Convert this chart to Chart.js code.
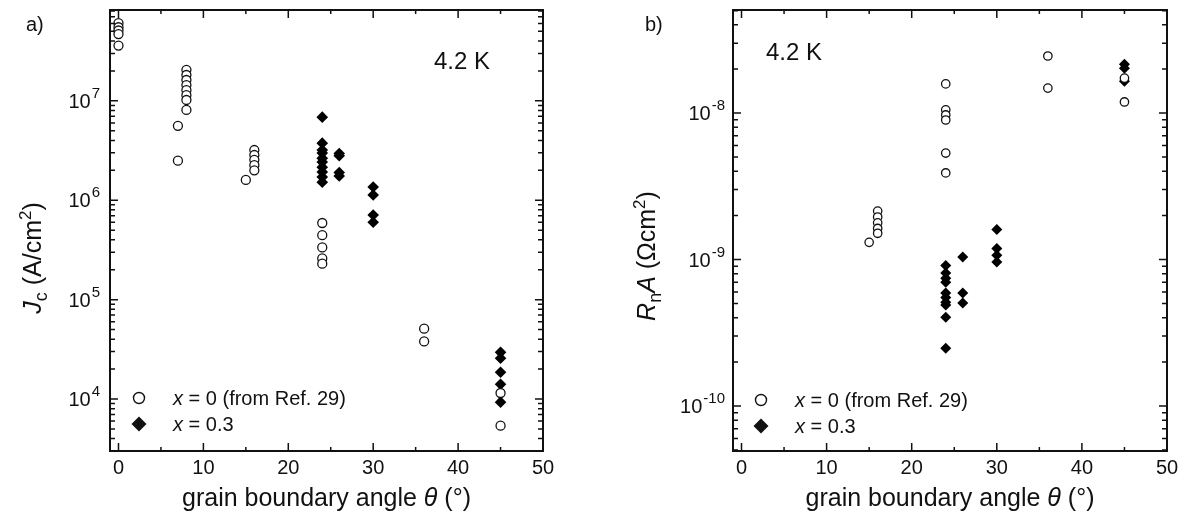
<!DOCTYPE html>
<html>
<head>
<meta charset="utf-8">
<script src="https://cdn.jsdelivr.net/npm/chart.js@4.4.1/dist/chart.umd.min.js"></script>
<style>
  html, body { margin: 0; padding: 0; background: #fff; }
  #wrap { position: relative; width: 1182px; height: 525px; }
  .panel { position: absolute; top: 0; height: 525px; }
</style>
</head>
<body>
<div id="wrap">
  <div class="panel" style="left:0;width:600px"><canvas id="chartA"></canvas></div>
  <div class="panel" style="left:600px;width:582px"><canvas id="chartB"></canvas></div>
</div>
<script>
// ---- data ----
// panel a) Jc vs grain boundary angle
const aOpenX = [0, 0, 0, 0, 0, 7, 7, 8, 8, 8, 8, 8, 8, 8, 8, 15, 16, 16, 16, 16, 16, 24, 24, 24, 24, 24, 36, 36, 45, 45];
const aOpenY = [6.05e7, 5.5e7, 5.1e7, 4.7e7, 3.6e7, 5.6e6, 2.5e6,
  2.05e7, 1.82e7, 1.62e7, 1.44e7, 1.28e7, 1.14e7, 1.02e7, 8.1e6,
  1.6e6, 3.2e6, 2.85e6, 2.55e6, 2.25e6, 2.0e6,
  5.9e5, 4.45e5, 3.35e5, 2.6e5, 2.3e5, 5.1e4, 3.8e4, 1.15e4, 5.4e3];
const aFullX = [24, 24, 24, 24, 24, 24, 24, 24, 24, 24, 26, 26, 26, 26, 30, 30, 30, 30, 45, 45, 45, 45, 45];
const aFullY = [6.85e6, 3.75e6, 3.2e6, 2.98e6, 2.65e6, 2.42e6, 2.15e6, 1.92e6, 1.71e6, 1.52e6,
  2.95e6, 2.8e6, 1.9e6, 1.75e6,
  1.36e6, 1.13e6, 7.1e5, 6.0e5,
  2.95e4, 2.57e4, 1.86e4, 1.41e4, 9.3e3];

// panel b) RnA vs grain boundary angle
const bOpenX = [15, 16, 16, 16, 16, 16, 24, 24, 24, 24, 24, 24, 36, 36, 45, 45];
const bOpenY = [1.31e-9, 2.14e-9, 1.95e-9, 1.78e-9, 1.63e-9, 1.51e-9,
  1.58e-8, 1.05e-8, 9.7e-9, 8.96e-9, 5.33e-9, 3.9e-9,
  2.45e-8, 1.48e-8, 1.73e-8, 1.19e-8];
const bFullX = [24, 24, 24, 24, 24, 24, 24, 24, 24, 24, 26, 26, 26, 30, 30, 30, 30, 45, 45, 45];
const bFullY = [9.1e-10, 8.1e-10, 7.45e-10, 7.0e-10, 5.9e-10, 5.5e-10, 5.1e-10, 4.9e-10, 4.04e-10, 2.48e-10,
  1.04e-9, 5.9e-10, 5.04e-10,
  1.6e-9, 1.19e-9, 1.07e-9, 9.6e-10,
  2.15e-8, 2.02e-8, 1.65e-8];

// axis ticks
const xMajor = [0, 10, 20, 30, 40, 50];
const xMinor = [5, 15, 25, 35, 45];
const aDecades = [4, 5, 6, 7];
const bDecades = [-10, -9, -8];

const FONT = "'Liberation Sans', Arial, Helvetica, sans-serif";
const INK = '#111';

function pts(xs, ys) {
  return xs.map((x, i) => ({ x: x, y: ys[i] }));
}

function fontOf(r) {
  return (r.italic ? 'italic ' : '') + (r.size || 20) + 'px ' + FONT;
}

// draw a list of text runs (for sub/superscripts); y is the baseline
function drawRuns(ctx, runs, x, y, align) {
  let w = 0;
  runs.forEach(r => { ctx.font = fontOf(r); w += ctx.measureText(r.t).width; });
  let cx = align === 'center' ? x - w / 2 : (align === 'right' ? x - w : x);
  ctx.textAlign = 'left';
  ctx.textBaseline = 'alphabetic';
  runs.forEach(r => {
    ctx.font = fontOf(r);
    ctx.fillText(r.t, cx, y + (r.dy || 0));
    cx += ctx.measureText(r.t).width;
  });
}

function frameAndText(opts) {
  return {
    id: 'frameAndText',
    afterDraw(chart) {
      const ctx = chart.ctx;
      const area = chart.chartArea;
      const xs = chart.scales.x, ys = chart.scales.y;
      ctx.save();
      ctx.strokeStyle = INK;
      ctx.fillStyle = INK;

      // frame
      ctx.lineWidth = 2;
      ctx.strokeRect(area.left, area.top, area.right - area.left, area.bottom - area.top);

      // x ticks (inward, bottom + top)
      ctx.lineWidth = 1.5;
      const xTick = (v, len) => {
        const px = xs.getPixelForValue(v);
        ctx.beginPath();
        ctx.moveTo(px, area.bottom); ctx.lineTo(px, area.bottom - len);
        ctx.moveTo(px, area.top); ctx.lineTo(px, area.top + len);
        ctx.stroke();
      };
      xMajor.forEach(v => xTick(v, 8));
      xMinor.forEach(v => xTick(v, 4));

      // y ticks (log, inward, left + right)
      const yTick = (v, len) => {
        if (v < ys.min || v > ys.max) return;
        const py = ys.getPixelForValue(v);
        ctx.beginPath();
        ctx.moveTo(area.left, py); ctx.lineTo(area.left + len, py);
        ctx.moveTo(area.right, py); ctx.lineTo(area.right - len, py);
        ctx.stroke();
      };
      const d0 = Math.floor(Math.log10(ys.min)), d1 = Math.ceil(Math.log10(ys.max));
      for (let d = d0; d <= d1; d++) {
        yTick(Math.pow(10, d), 8);
        for (let m = 2; m <= 9; m++) yTick(m * Math.pow(10, d), 5);
      }

      // x tick labels
      ctx.font = '20px ' + FONT;
      ctx.textAlign = 'center';
      ctx.textBaseline = 'alphabetic';
      xMajor.forEach(v => ctx.fillText(String(v), xs.getPixelForValue(v), 474));

      // y tick labels 10^n
      opts.decades.forEach(d => {
        const py = ys.getPixelForValue(Math.pow(10, d));
        const exp = String(d);
        ctx.font = '15px ' + FONT;
        const ew = ctx.measureText(exp).width;
        const right = area.left - opts.labelGap;
        ctx.textAlign = 'left';
        ctx.fillText(exp, right - ew, py - 3);
        ctx.font = '20px ' + FONT;
        ctx.textAlign = 'right';
        ctx.fillText('10', right - ew - 1, py + 7);
      });

      // x axis title
      const cx = (area.left + area.right) / 2;
      drawRuns(ctx, [
        { t: 'grain boundary angle ', size: 25 },
        { t: '\u03b8', size: 25, italic: true },
        { t: ' (\u00b0)', size: 25 }
      ], cx, 506, 'center');

      // y axis title (rotated)
      ctx.save();
      ctx.translate(opts.yTitleX, opts.yTitleY);
      ctx.rotate(-Math.PI / 2);
      drawRuns(ctx, opts.yTitle, 0, 0, 'center');
      ctx.restore();

      // panel letter and temperature
      ctx.font = '20px ' + FONT;
      ctx.textAlign = 'left';
      ctx.fillText(opts.letter, opts.letterX, 31);
      ctx.font = '24px ' + FONT;
      ctx.fillText('4.2 K', opts.tempX, opts.tempY);

      // legend
      const lx = opts.legendX, ly = opts.legendY;
      ctx.lineWidth = 1.4;
      ctx.beginPath();
      ctx.arc(lx, ly, 5.5, 0, Math.PI * 2);
      ctx.stroke();
      ctx.beginPath();
      ctx.moveTo(lx - 7.5, ly + 26); ctx.lineTo(lx, ly + 26 - 7.5);
      ctx.lineTo(lx + 7.5, ly + 26); ctx.lineTo(lx, ly + 26 + 7.5);
      ctx.closePath();
      ctx.fill();
      drawRuns(ctx, [{ t: 'x', italic: true }, { t: ' = 0 (from Ref. 29)' }], lx + 34, ly + 7, 'left');
      drawRuns(ctx, [{ t: 'x', italic: true }, { t: ' = 0.3' }], lx + 34, ly + 33, 'left');

      ctx.restore();
    }
  };
}

function makePanel(id, open, full, cfg) {
  return new Chart(document.getElementById(id), {
    type: 'scatter',
    data: {
      datasets: [
        {
          label: 'x = 0 (from Ref. 29)',
          data: open,
          pointStyle: 'circle',
          pointRadius: cfg.circleR,
          pointBackgroundColor: '#fff',
          pointBorderColor: INK,
          pointBorderWidth: 1.3
        },
        {
          label: 'x = 0.3',
          data: full,
          pointStyle: 'rectRot',
          pointRadius: cfg.diamondR,
          pointBackgroundColor: '#000',
          pointBorderColor: '#000',
          pointBorderWidth: 0
        }
      ]
    },
    options: {
      responsive: true,
      maintainAspectRatio: false,
      animation: false,
      layout: { padding: cfg.padding },
      plugins: { legend: { display: false }, tooltip: { enabled: false } },
      scales: {
        x: { type: 'linear', display: false, min: -1, max: 50 },
        y: { type: 'logarithmic', display: false, min: cfg.yMin, max: cfg.yMax }
      }
    },
    plugins: [frameAndText(cfg)]
  });
}

makePanel('chartA', pts(aOpenX, aOpenY), pts(aFullX, aFullY), {
  padding: { left: 110, right: 57, top: 10, bottom: 74 },
  yMin: 3.0e3, yMax: 8.2e7,
  decades: aDecades, labelGap: 10,
  circleR: 4.5, diamondR: 5.8,
  yTitle: [
    { t: 'J', size: 25, italic: true },
    { t: 'c', size: 18, dy: 6 },
    { t: ' (A/cm', size: 25 },
    { t: '2', size: 17, dy: -10 },
    { t: ')', size: 25 }
  ],
  yTitleX: 41, yTitleY: 258,
  letter: 'a)', letterX: 26,
  tempX: 434, tempY: 69,
  legendX: 139, legendY: 398
});

makePanel('chartB', pts(bOpenX, bOpenY), pts(bFullX, bFullY), {
  padding: { left: 133, right: 15, top: 10, bottom: 74 },
  yMin: 4.93e-11, yMax: 5.05e-8,
  decades: bDecades, labelGap: 8,
  circleR: 4.2, diamondR: 5.5,
  yTitle: [
    { t: 'R', size: 25, italic: true },
    { t: 'n', size: 18, dy: 6 },
    { t: 'A', size: 25, italic: true },
    { t: ' (\u03a9cm', size: 25 },
    { t: '2', size: 17, dy: -10 },
    { t: ')', size: 25 }
  ],
  yTitleX: 55, yTitleY: 256,
  letter: 'b)', letterX: 45,
  tempX: 166, tempY: 60,
  legendX: 161, legendY: 400
});
</script>
</body>
</html>
